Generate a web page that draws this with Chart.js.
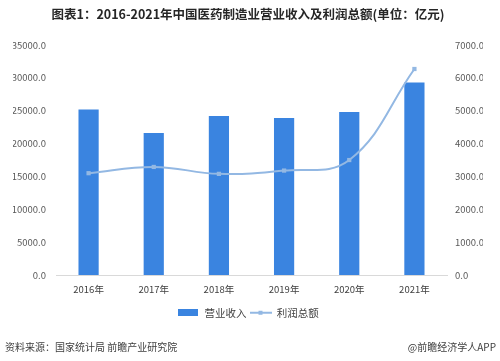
<!DOCTYPE html>
<html><head><meta charset="utf-8">
<script src="https://cdn.jsdelivr.net/npm/chart.js@4/dist/chart.umd.min.js"></script>
<style>html,body{margin:0;padding:0;background:#fff;}canvas{display:block;}</style>
</head><body>
<canvas id="c" width="500" height="361"></canvas>
<script>
const categories = ['2016年','2017年','2018年','2019年','2020年','2021年'];
const revenue = [25200, 21600, 24200, 23900, 24800, 29300];
const profit = [3100, 3290, 3080, 3180, 3500, 6270];
const leftTicks = [0,5000,10000,15000,20000,25000,30000,35000];
const rightTicks = [0,1000,2000,3000,4000,5000,6000,7000];
const titleText = '图表1：2016-2021年中国医药制造业营业收入及利润总额(单位：亿元)';
const sourceText = '资料来源：国家统计局 前瞻产业研究院';
const brandText = '@前瞻经济学人APP';

const FONT = '"Noto Sans CJK SC", "Noto Sans", sans-serif';
const barColor = '#3a84e0';
const lineColor = '#93b8e3';

function mkBarIcon(){const c=document.createElement('canvas');c.width=20;c.height=7;const x=c.getContext('2d');x.fillStyle=barColor;x.fillRect(0,0,20,7);return c;}
function mkLineIcon(){const c=document.createElement('canvas');c.width=22;c.height=6;const x=c.getContext('2d');x.fillStyle=lineColor;x.fillRect(0,2,22,2);x.fillRect(9,1,4,4);return c;}
const icons=[mkBarIcon(),mkLineIcon()];

const footerPlugin = {
  id:'footer',
  afterDraw(chart){
    const ctx=chart.ctx;ctx.save();
    ctx.font='10px '+FONT;ctx.fillStyle='#404040';ctx.textBaseline='middle';
    ctx.textAlign='left';ctx.fillText(sourceText,5,347);
    ctx.textAlign='right';ctx.fillText(brandText,496,347);
    ctx.restore();
  }
};

new Chart(document.getElementById('c'),{
  data:{
    labels:categories,
    datasets:[
      {type:'line',label:'利润总额',data:profit,yAxisID:'y1',borderColor:lineColor,backgroundColor:lineColor,borderWidth:2,tension:0.4,pointStyle:'rect',pointRadius:3,pointBackgroundColor:lineColor,pointBorderWidth:0,order:0},
      {type:'bar',label:'营业收入',data:revenue,yAxisID:'y',backgroundColor:barColor,barPercentage:0.31,categoryPercentage:1,order:1}
    ]
  },
  options:{
    responsive:false,animation:false,
    layout:{padding:{left:13,right:17,top:0,bottom:33}},
    plugins:{
      title:{display:true,text:titleText,color:'#262626',font:{family:FONT,size:12.5,weight:'bold'},padding:{top:7,bottom:23}},
      legend:{position:'bottom',
        labels:{usePointStyle:true,pointStyleWidth:22,boxHeight:7,color:'#404040',font:{family:FONT,size:10.5},padding:3,
          generateLabels(chart){
            return [
              {text:'营业收入',pointStyle:icons[0],fillStyle:barColor,strokeStyle:barColor,lineWidth:0,datasetIndex:1,fontColor:'#404040'},
              {text:'利润总额',pointStyle:icons[1],fillStyle:lineColor,strokeStyle:lineColor,lineWidth:0,datasetIndex:0,fontColor:'#404040'}
            ];
          }}},
      tooltip:{enabled:false}
    },
    scales:{
      x:{grid:{display:false,drawTicks:false},border:{display:true,color:'#d9d9d9',width:1},ticks:{color:'#404040',font:{family:FONT,size:9.5},padding:9}},
      y:{position:'left',min:0,max:35000,afterBuildTicks(s){s.ticks=leftTicks.map(v=>({value:v}));},
        afterFit(s){s.width=43;},
        grid:{display:false,drawTicks:false},border:{display:false},ticks:{padding:10,color:'#595959',font:{family:FONT,size:9.5},callback:v=>Number(v).toFixed(1)}},
      y1:{position:'right',min:0,max:7000,afterBuildTicks(s){s.ticks=rightTicks.map(v=>({value:v}));},
        afterFit(s){s.width=36;},
        grid:{display:false,drawTicks:false},border:{display:false},ticks:{padding:8,color:'#595959',font:{family:FONT,size:9.5},callback:v=>Number(v).toFixed(1)}}
    }
  },
  plugins:[footerPlugin]
});
</script>
</body></html>
